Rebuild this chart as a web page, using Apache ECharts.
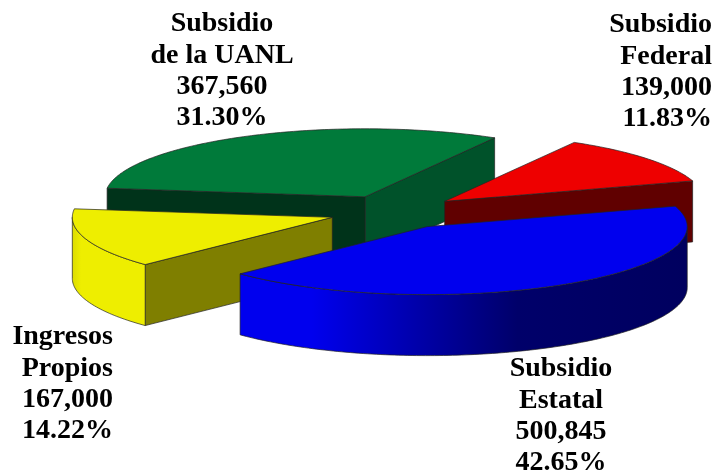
<!DOCTYPE html>
<html>
<head>
<meta charset="utf-8">
<style>
  html, body { margin: 0; padding: 0; background: #fff; }
  #chart { width: 717px; height: 476px; }
</style>
<script src="https://cdn.jsdelivr.net/npm/echarts@6/dist/echarts.min.js"></script>
</head>
<body>
<div id="chart"></div>
<script>
  // datos, en sentido antihorario desde el corte derecho
  var names = [['Subsidio', 'Federal'], ['Subsidio', 'de la UANL'], ['Ingresos', 'Propios'], ['Subsidio', 'Estatal']]
  var values = [139000, 367560, 167000, 500845]
  var valueLabels = ['139,000', '367,560', '167,000', '500,845']
  var percentLabels = ['11.83%', '31.30%', '14.22%', '42.65%']

  // colores de cada rebanada
  var topColors = ['#ee0000', '#007a3a', '#eeee00', '#0000ee']
  var startFaceColors = ['#600000', '#00522a', '#7f7f00', '#00005f']
  var endFaceColors = ['#600000', '#00331a', '#7f7f00', '#00005f']
  var rimStops = [
    [[0, '#ee0000'], [1, '#600000']],
    [[0, '#00522a'], [1, '#00331a']],
    [[0, '#dcdc00'], [0.12, '#eeee00'], [1, '#eeee00']],
    [[0, '#0000ee'], [0.16, '#0000ee'], [0.62, '#00006a'], [1, '#00005f']],
  ]

  // verde atras, luego rojo, amarillo y azul al frente
  var drawOrder = [1, 0, 2, 3]

  // geometria del pastel
  var centerX = 394
  var centerY = 212
  var radiusX = 260
  var radiusY = 68
  var depth = 61
  var explode = 65
  var startAngle = 17.5

  // posicion de las etiquetas: [x, y de la primera linea, alineacion]
  var labelPos = [
    [712, 25, 'right'],
    [222, 24, 'center'],
    [113, 337, 'right'],
    [561, 369, 'center'],
  ]
  var lineHeight = 31.3

  var total = values.reduce(function (a, b) { return a + b }, 0)
  var angles = []
  var acum = startAngle
  values.forEach(function (v) {
    var span = (v / total) * 360
    angles.push([acum, acum + span])
    acum += span
  })

  function rad(a) { return (a * Math.PI) / 180 }

  function renderSlice(params, api) {
    var i = api.value(0)
    var a0 = angles[i][0]
    var a1 = angles[i][1]
    var mid = (a0 + a1) / 2
    var ox = centerX + explode * Math.cos(rad(mid))
    var oy = centerY - explode * (radiusY / radiusX) * Math.sin(rad(mid))

    function pt(x, y, down) { return api.coord([x, y + (down ? depth : 0)]) }
    function rim(a, down) {
      return pt(ox + radiusX * Math.cos(rad(a)), oy - radiusY * Math.sin(rad(a)), down)
    }
    function arc(from, to, down) {
      var pts = []
      var n = Math.max(2, Math.ceil(Math.abs(to - from)))
      for (var k = 0; k <= n; k++) pts.push(rim(from + ((to - from) * k) / n, down))
      return pts
    }
    function poly(points, fill) {
      return {
        type: 'polygon',
        shape: { points: points },
        style: { fill: fill, stroke: '#222', lineWidth: 0.7, lineJoin: 'round' },
      }
    }

    var children = []
    // caras de corte que miran al frente
    if (Math.sin(rad(a0 - 90)) < 0) {
      children.push(poly([pt(ox, oy), rim(a0), rim(a0, true), pt(ox, oy, true)], startFaceColors[i]))
    }
    if (Math.sin(rad(a1 + 90)) < 0) {
      children.push(poly([pt(ox, oy), rim(a1), rim(a1, true), pt(ox, oy, true)], endFaceColors[i]))
    }
    // borde exterior, solo la parte de abajo del elipse es visible
    var r0 = Math.max(a0, 180)
    var r1 = Math.min(a1, 360)
    if (r1 > r0) {
      var top = arc(r0, r1)
      var bottom = arc(r0, r1, true).reverse()
      var xs = top.map(function (p) { return p[0] })
      children.push(poly(top.concat(bottom), {
        type: 'linear',
        x: Math.min.apply(null, xs),
        y: 0,
        x2: Math.max.apply(null, xs),
        y2: 0,
        global: true,
        colorStops: rimStops[i].map(function (s) { return { offset: s[0], color: s[1] } }),
      }))
    }
    // cara superior
    children.push(poly([pt(ox, oy)].concat(arc(a0, a1)), topColors[i]))
    return { type: 'group', children: children }
  }

  var labelData = []
  names.forEach(function (n, i) {
    var lines = [n[0], n[1], valueLabels[i], percentLabels[i]]
    lines.forEach(function (t, k) {
      labelData.push({
        value: [labelPos[i][0], labelPos[i][1] + k * lineHeight],
        label: { formatter: t, align: labelPos[i][2] },
      })
    })
  })

  var chart = echarts.init(document.getElementById('chart'))
  chart.setOption({
    animation: false,
    grid: { left: 0, right: 0, top: 0, bottom: 0 },
    xAxis: { type: 'value', min: 0, max: 717, show: false },
    yAxis: { type: 'value', min: 0, max: 476, inverse: true, show: false },
    series: [
      {
        type: 'custom',
        renderItem: renderSlice,
        clip: false,
        data: drawOrder.map(function (i) { return [i] }),
        encode: { x: [], y: [] },
      },
      {
        type: 'scatter',
        symbolSize: 0,
        z: 5,
        itemStyle: { opacity: 1 },
        data: labelData,
        label: {
          show: true,
          position: 'inside',
          verticalAlign: 'middle',
          fontFamily: '"Liberation Serif", serif',
          fontWeight: 'bold',
          fontSize: 28,
          color: '#000',
          opacity: 1,
        },
      },
    ],
  })
</script>
</body>
</html>
